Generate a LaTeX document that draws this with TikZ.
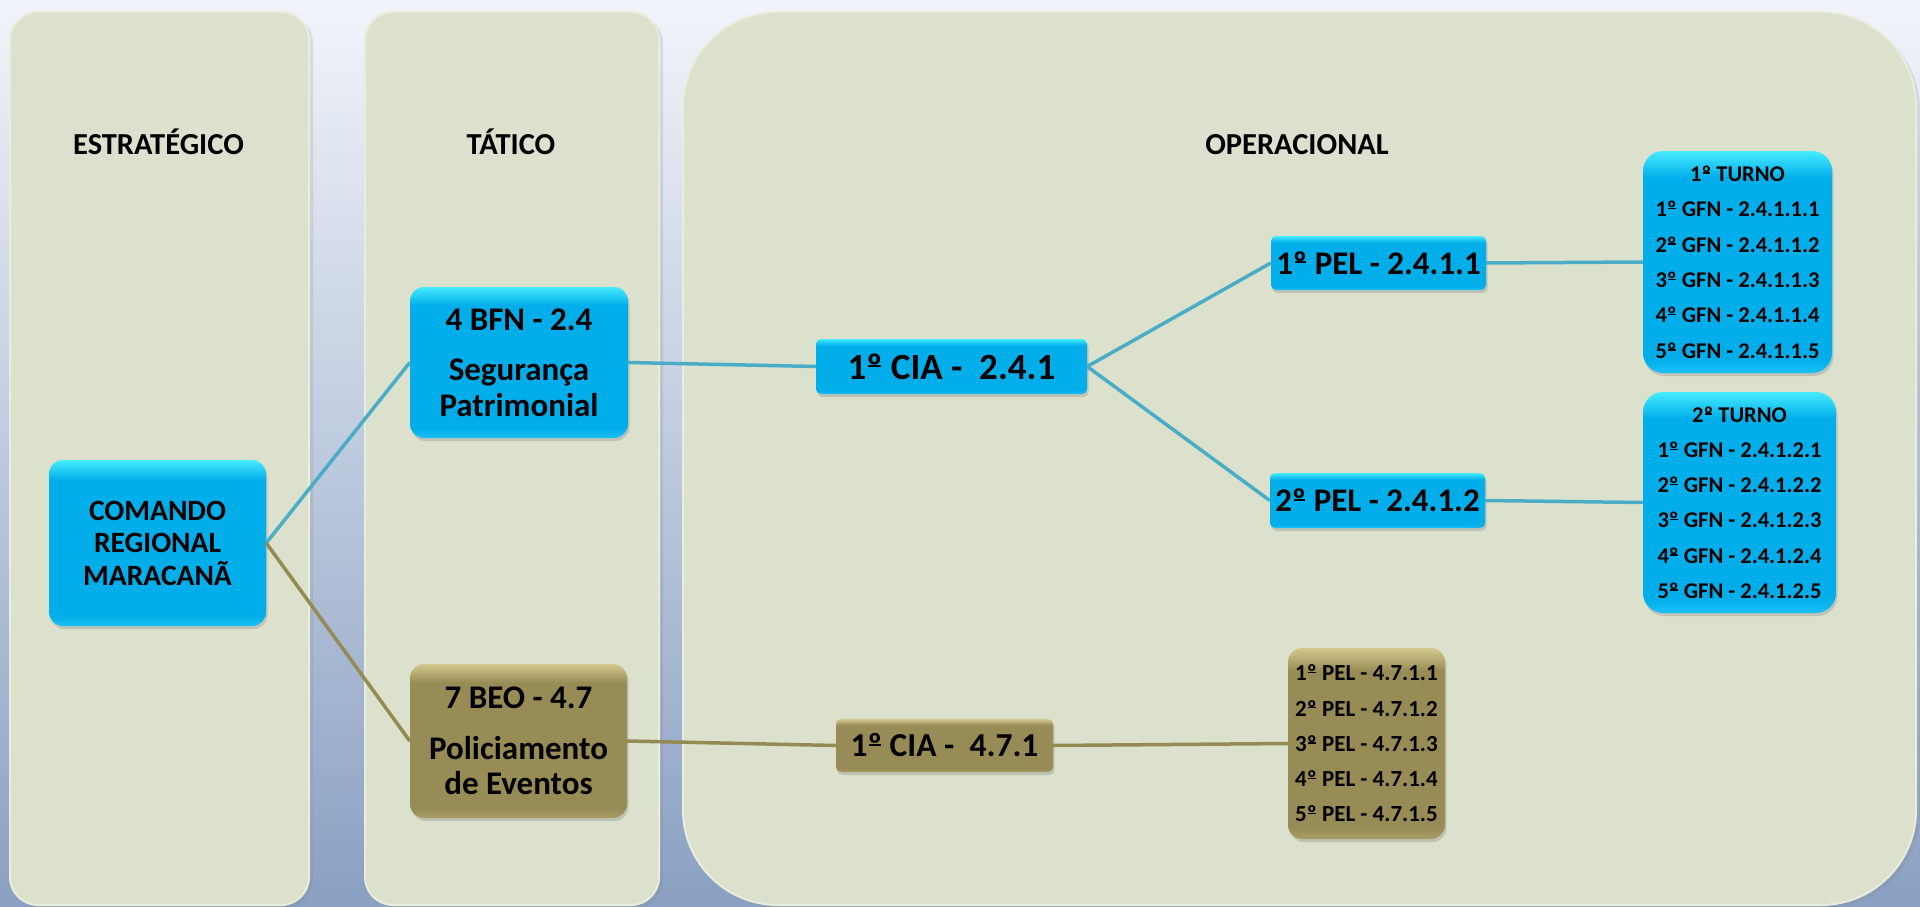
\documentclass[tikz,border=0pt]{standalone}
\usepackage{fontspec}
\setmainfont{Carlito}
\usetikzlibrary{shadows}
\definecolor{bgtop}{RGB}{241,244,250}
\definecolor{bgmid}{RGB}{218,226,238}
\definecolor{bgbot}{RGB}{138,160,194}
\definecolor{panelfill}{RGB}{219,225,204}
\definecolor{paneledge}{RGB}{232,237,220}
\definecolor{bluehi}{RGB}{70,236,255}
\definecolor{bluemid}{RGB}{2,174,234}
\definecolor{bluelo}{RGB}{30,192,245}
\definecolor{olivehi}{RGB}{212,200,142}
\definecolor{olivemid}{RGB}{151,140,85}
\definecolor{olivelo}{RGB}{170,158,102}
\definecolor{linkblue}{RGB}{75,172,198}
\definecolor{linkolive}{RGB}{148,138,84}
\pgfdeclareverticalshading{bluebev}{100bp}{color(0bp)=(bluelo); color(25bp)=(bluelo); color(28bp)=(bluemid); color(69bp)=(bluemid); color(75bp)=(bluehi); color(100bp)=(bluehi)}
\pgfdeclareverticalshading{olivebev}{100bp}{color(0bp)=(olivelo); color(25bp)=(olivelo); color(28bp)=(olivemid); color(69bp)=(olivemid); color(75bp)=(olivehi); color(100bp)=(olivehi)}
\newcommand\fsz[2]{\fontsize{#1}{#2}\selectfont\bfseries}
\newsavebox\ordbox
\newcommand\ordo{\sbox\ordbox{º}\rlap{\hbox to\wd\ordbox{\hss\rule[0.33em]{0.78\wd\ordbox}{0.06em}\hss}}\usebox\ordbox}
\begin{document}
\begin{tikzpicture}[x=1pt,y=-1pt,
  panel/.style={fill=panelfill, draw=paneledge, line width=2pt,
    drop shadow={opacity=0.18, shadow xshift=4pt, shadow yshift=-3pt}},
  hdr/.style={font=\fsz{30.5}{34}, anchor=base, inner sep=0pt},
  box/.style={rounded corners=#1, inner sep=0pt, align=center, text=black,
    drop shadow={opacity=0.3, shadow xshift=1.5pt, shadow yshift=-3pt}},
  bluebox/.style={box=#1, shade, shading=bluebev},
  olivebox/.style={box=#1, shade, shading=olivebev},
  blueline/.style={draw=linkblue, line width=3.5pt},
  oliveline/.style={draw=linkolive, line width=3.5pt}]
\useasboundingbox (0,0) rectangle (1920,907);
\shade[top color=bgtop, middle color=bgmid, bottom color=bgbot] (0,0) rectangle (1920,907);
% panels
\draw[panel, rounded corners=28pt] (10,12) rectangle (309,905);
\draw[panel, rounded corners=28pt] (365,12) rectangle (659,905);
\draw[panel, rounded corners=95pt] (683,12) rectangle (1916,905);
% headers
\node[hdr] (hE) at (158.5,154) {ESTRATÉGICO};
\node[hdr] (hT) at (511,154) {TÁTICO};
\node[hdr] (hO) at (1297,154) {OPERACIONAL};
% boxes
\node[bluebox=14pt, minimum width=217pt, minimum height=166pt, font=\fsz{29.5}{32.5}] (cmd) at (157.5,543) {COMANDO\\REGIONAL\\MARACANÃ};
\node[bluebox=14pt, minimum width=218pt, minimum height=151pt, font=\fsz{33}{36}] (bfn) at (519,362.5) {4 BFN - 2.4\\[14pt]Segurança\\Patrimonial};
\node[olivebox=14pt, minimum width=217pt, minimum height=154pt, font=\fsz{33}{35}] (beo) at (518.5,741) {7 BEO - 4.7\\[16pt]Policiamento\\de Eventos};
\node[bluebox=5pt, minimum width=271pt, minimum height=55pt, font=\fsz{37}{40}] (cia1) at (951.5,366.5) {1\ordo{} CIA -\ \ 2.4.1};
\node[bluebox=5pt, minimum width=215pt, minimum height=54pt, font=\fsz{33}{36}] (pel1) at (1378.5,263) {1\ordo{} PEL - 2.4.1.1};
\node[bluebox=5pt, minimum width=215pt, minimum height=55pt, font=\fsz{33}{36}] (pel2) at (1377.5,500.5) {2\ordo{} PEL - 2.4.1.2};
\node[bluebox=20pt, minimum width=189pt, minimum height=222pt, font=\fsz{22.5}{35.4}] (t1) at (1737.5,262) {1\ordo{} TURNO\\1\ordo{} GFN - 2.4.1.1.1\\2\ordo{} GFN - 2.4.1.1.2\\3\ordo{} GFN - 2.4.1.1.3\\4\ordo{} GFN - 2.4.1.1.4\\5\ordo{} GFN - 2.4.1.1.5};
\node[bluebox=20pt, minimum width=193pt, minimum height=221pt, font=\fsz{22.5}{35.2}] (t2) at (1739.5,502.5) {2\ordo{} TURNO\\1\ordo{} GFN - 2.4.1.2.1\\2\ordo{} GFN - 2.4.1.2.2\\3\ordo{} GFN - 2.4.1.2.3\\4\ordo{} GFN - 2.4.1.2.4\\5\ordo{} GFN - 2.4.1.2.5};
\node[olivebox=5pt, minimum width=217pt, minimum height=53pt, font=\fsz{33.5}{36}] (cia2) at (944.5,745.5) {1\ordo{} CIA -\ \ 4.7.1};
\node[olivebox=14pt, minimum width=157pt, minimum height=191pt, font=\fsz{23}{35.3}] (pel47) at (1366.5,743.5) {1\ordo{} PEL - 4.7.1.1\\2\ordo{} PEL - 4.7.1.2\\3\ordo{} PEL - 4.7.1.3\\4\ordo{} PEL - 4.7.1.4\\5\ordo{} PEL - 4.7.1.5};
% connectors
\draw[blueline] (cmd.east) -- (bfn.west);
\draw[oliveline] (cmd.east) -- (beo.west);
\draw[blueline] (bfn.east) -- (cia1.west);
\draw[blueline] (cia1.east) -- (pel1.west);
\draw[blueline] (cia1.east) -- (pel2.west);
\draw[blueline] (pel1.east) -- (t1.west);
\draw[blueline] (pel2.east) -- (t2.west);
\draw[oliveline] (beo.east) -- (cia2.west);
\draw[oliveline] (cia2.east) -- (pel47.west);
\end{tikzpicture}
\end{document}
